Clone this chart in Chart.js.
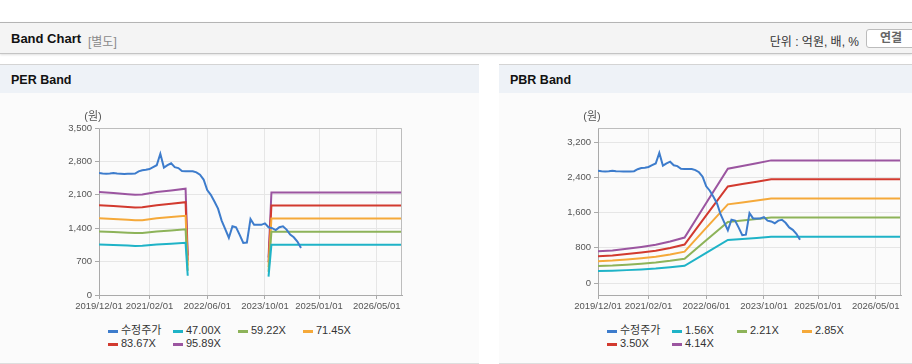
<!DOCTYPE html>
<html>
<head>
<meta charset="utf-8">
<script src="https://cdn.jsdelivr.net/npm/chart.js@4.4.1/dist/chart.umd.min.js"></script>
<style>
  body { margin: 0; width: 912px; height: 364px; position: relative; overflow: hidden; background: #fff;
         font-family: "Liberation Sans", "Noto Sans CJK KR", sans-serif; color: #222; }
  .topbar { position: absolute; left: 0; top: 22px; width: 912px; height: 30px; background: #f4f4f4;
            border-top: 1px solid #b4b4b4; border-bottom: 1px solid #c4c4c4; box-shadow: 0 1px 2px rgba(0,0,0,0.12); }
  .topbar .title { position: absolute; left: 11px; top: 8px; font-size: 13px; font-weight: bold; color: #111; }
  .topbar .sub { position: absolute; left: 88px; top: 9px; font-size: 12px; color: #8a8a8a; }
  .topbar .unit { position: absolute; right: 53px; top: 9px; font-size: 12px; color: #333; }
  .topbar .btn { position: absolute; left: 866px; top: 6px; width: 60px; height: 17px; background: #fff;
                 border: 1px solid #bcbcbc; border-radius: 3px; font-size: 12px; font-weight: bold; color: #666;
                 line-height: 17px; padding-left: 13px; box-sizing: content-box; }
  .panel { position: absolute; top: 64px; height: 298px; background: #fbfbfb; border-top: 1px solid #d4d4d4;
           border-bottom: 1px solid #dedede; }
  .panel .head { height: 28px; background: #eef2f7; font-size: 12.5px; font-weight: bold; color: #111;
                 line-height: 31px; padding-left: 11px; }
  canvas { position: absolute; top: 100px; }
  .legend { position: absolute; top: 324px; width: 270px; font-size: 11px; color: #333; }
  .legend .item { display: inline-block; width: 65px; height: 13px; line-height: 13px; white-space: nowrap; }
  .legend .mark { display: inline-block; width: 10px; height: 3px; margin-right: 3px; vertical-align: middle; }
</style>
</head>
<body>
<div class="topbar">
  <span class="title">Band Chart</span><span class="sub">[별도]</span>
  <span class="unit">단위 : 억원, 배, %</span>
  <span class="btn">연결</span>
</div>
<div class="panel" style="left:0; width:479px;"><div class="head">PER Band</div></div>
<div class="panel" style="left:499px; width:413px;"><div class="head">PBR Band</div></div>
<canvas id="perChart" width="479" height="215" style="left:0;"></canvas>
<canvas id="pbrChart" width="413" height="215" style="left:499px;"></canvas>
<div class="legend" id="perLegend" style="left:108px;"></div>
<div class="legend" id="pbrLegend" style="left:607px;"></div>

<script>
// ----- data -----
const xTickDates = ["2019/12/01", "2021/02/01", "2022/06/01", "2023/10/01", "2025/01/01", "2026/05/01"];
const xEnd = "2026/12/01";

// 수정주가, monthly from 2019/12
const priceStart = "2019/12/01";
const price = [2555, 2545, 2540, 2545, 2555, 2545, 2540, 2535, 2540, 2540, 2545, 2590, 2615, 2625, 2640,
  2680, 2720, 2960, 2670, 2720, 2760, 2680, 2660, 2600, 2595, 2595, 2595, 2570, 2520, 2420, 2200, 2100,
  1960, 1810, 1560, 1380, 1200, 1440, 1420, 1260, 1090, 1100, 1590, 1470, 1470, 1470, 1500, 1420, 1400,
  1360, 1420, 1440, 1370, 1265, 1210, 1120, 985];

// PER band
const perLabels = ["47.00X", "59.22X", "71.45X", "83.67X", "95.89X"];
const perDates = ["2019/12/01", "2020/04/01", "2020/08/01", "2020/10/01", "2020/12/01", "2021/04/01",
  "2021/08/01", "2021/12/01", "2021/12/19", "2022/06/01", "2023/11/01", "2023/11/25", "2026/12/01"];
const per47 = [1058, 1048, 1036, 1029, 1032, 1058, 1074, 1093, 404, null, 385, 1054, 1054];
const per59 = [1333, 1321, 1306, 1297, 1300, 1333, 1353, 1377, 509, null, 486, 1328, 1328];
const per71 = [1608, 1593, 1576, 1565, 1568, 1608, 1633, 1661, 615, null, 586, 1602, 1602];
const per83 = [1883, 1866, 1845, 1832, 1837, 1883, 1912, 1945, 720, null, 686, 1876, 1876];
const per95 = [2158, 2138, 2114, 2100, 2105, 2158, 2191, 2229, 825, null, 786, 2150, 2150];
const perYTicks = [0, 700, 1400, 2100, 2800, 3500];

// PBR band
const pbrLabels = ["1.56X", "2.21X", "2.85X", "3.50X", "4.14X"];
const pbrDates = ["2019/12/01", "2020/04/01", "2020/08/01", "2020/12/01", "2021/04/01", "2021/08/01",
  "2021/12/01", "2022/06/01", "2022/12/01", "2023/04/01", "2023/08/01", "2023/12/01", "2026/12/01"];
const pbr156 = [271, 279, 293, 309, 328, 356, 390, 686, 980, 1003, 1026, 1051, 1051];
const pbr221 = [385, 396, 415, 438, 464, 504, 553, 972, 1388, 1421, 1454, 1490, 1490];
const pbr285 = [496, 510, 536, 564, 599, 650, 713, 1254, 1790, 1833, 1875, 1921, 1921];
const pbr350 = [609, 627, 658, 693, 735, 798, 875, 1540, 2198, 2251, 2303, 2359, 2359];
const pbr414 = [720, 741, 778, 820, 869, 944, 1035, 1822, 2600, 2662, 2724, 2790, 2790];
const pbrYTicks = [0, 800, 1600, 2400, 3200];

const colors = ["#3d7ccc", "#1fb3c7", "#8db359", "#f5a93a", "#d23a2f", "#9b55a0"];

// ----- helpers -----
function monthIndex(s) {
  const p = s.split("/").map(Number);
  return (p[0] - 2019) * 12 + (p[1] - 12) + ((p[2] || 1) - 1) / 30;
}
const x0 = monthIndex(priceStart);
const tickFont = { family: "'Liberation Sans', 'Noto Sans CJK KR', sans-serif", size: 9.5 };

const plotFrame = {
  id: "plotFrame",
  afterDraw(chart) {
    const a = chart.chartArea, ctx = chart.ctx;
    ctx.save();
    ctx.strokeStyle = "#bdbdbd";
    ctx.lineWidth = 1;
    ctx.beginPath();
    ctx.moveTo(a.left, a.top + 0.5);
    ctx.lineTo(a.right - 0.5, a.top + 0.5);
    ctx.lineTo(a.right - 0.5, a.bottom);
    ctx.stroke();
    ctx.fillStyle = "#555";
    ctx.font = "11px 'Liberation Sans', 'Noto Sans CJK KR', sans-serif";
    ctx.textAlign = "center";
    ctx.textBaseline = "middle";
    ctx.fillText("(원)", a.left - 6, a.top - 11);
    ctx.restore();
  }
};

function makeChart(id, legendId, bandDates, bands, labels, yMin, yMax, yTicks, padRight) {
  const datasets = [{
    label: "수정주가",
    data: price.map((v, i) => ({ x: x0 + i, y: v })),
    borderColor: colors[0]
  }];
  bands.forEach((vals, k) => {
    datasets.push({
      label: labels[k],
      data: bandDates.map((d, i) => ({ x: monthIndex(d), y: vals[i] })),
      borderColor: colors[k + 1]
    });
  });

  const chart = new Chart(document.getElementById(id), {
    type: "line",
    data: { datasets: datasets },
    options: {
      responsive: false,
      animation: false,
      layout: { padding: { left: 0, right: padRight, top: 28, bottom: 0 } },
      plugins: { legend: { display: false }, tooltip: { enabled: false } },
      elements: { point: { radius: 0 }, line: { borderWidth: 2, tension: 0 } },
      spanGaps: false,
      scales: {
        x: {
          type: "linear",
          min: 0,
          max: monthIndex(xEnd),
          afterBuildTicks: (s) => { s.ticks = xTickDates.map(d => ({ value: monthIndex(d) })); },
          afterFit: (s) => { s.height = 20; },
          ticks: {
            autoSkip: false, maxRotation: 0, padding: 2, color: "#555", font: tickFont,
            callback: (v) => xTickDates.find(d => Math.abs(monthIndex(d) - v) < 0.01) || ""
          },
          grid: { color: "#e6e6e6", tickColor: "#aaa", tickLength: 4 },
          border: { color: "#aaa" }
        },
        y: {
          min: yMin,
          max: yMax,
          afterBuildTicks: (s) => { s.ticks = yTicks.map(v => ({ value: v })); },
          afterFit: (s) => { s.width = 99; },
          ticks: {
            padding: 3, color: "#555", font: tickFont,
            callback: (v) => v.toLocaleString("en-US")
          },
          grid: { color: "#e6e6e6", tickColor: "#aaa", tickLength: 4 },
          border: { color: "#aaa" }
        }
      }
    },
    plugins: [plotFrame]
  });

  // html legend from the datasets
  const box = document.getElementById(legendId);
  chart.data.datasets.forEach(ds => {
    const item = document.createElement("span");
    item.className = "item";
    const mark = document.createElement("span");
    mark.className = "mark";
    mark.style.background = ds.borderColor;
    item.appendChild(mark);
    item.appendChild(document.createTextNode(ds.label));
    box.appendChild(item);
  });
  return chart;
}

makeChart("perChart", "perLegend", perDates, [per47, per59, per71, per83, per95], perLabels,
  0, 3500, perYTicks, 77);
makeChart("pbrChart", "pbrLegend", pbrDates, [pbr156, pbr221, pbr285, pbr350, pbr414], pbrLabels,
  -273, 3527, pbrYTicks, 11);
</script>
</body>
</html>
